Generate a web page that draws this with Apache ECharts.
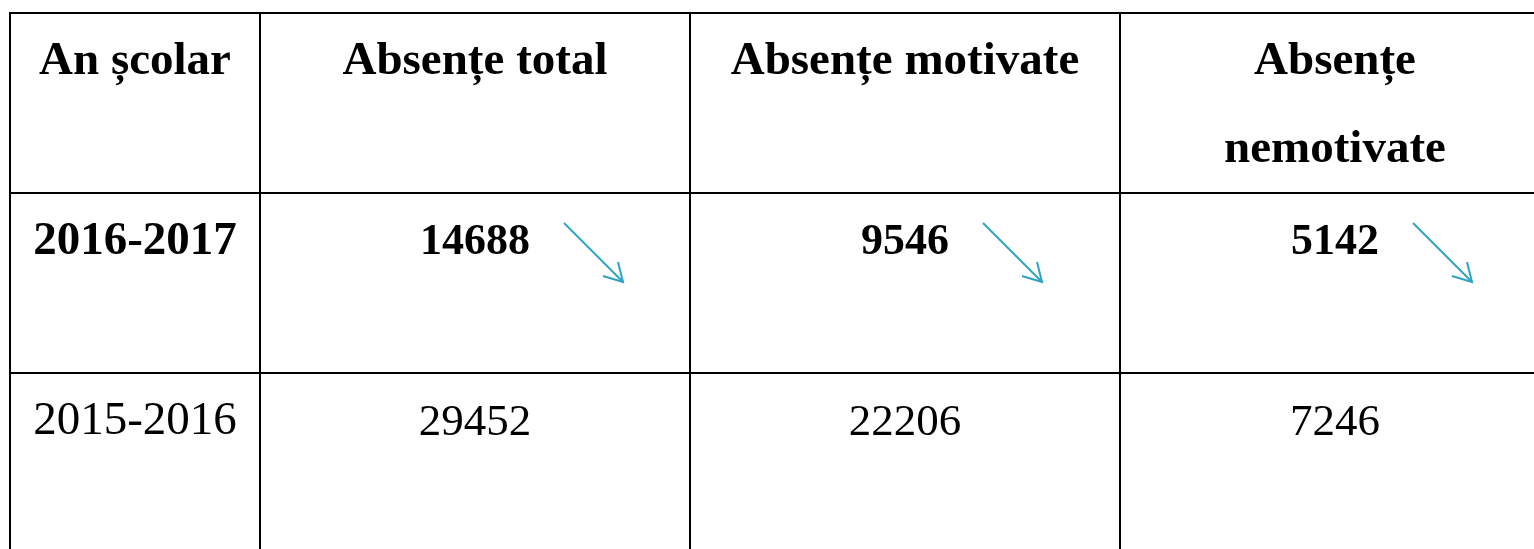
<!DOCTYPE html>
<html>
<head>
<meta charset="utf-8">
<script src="https://cdn.jsdelivr.net/npm/echarts@6/dist/echarts.min.js"></script>
<style>
  html, body { margin: 0; padding: 0; background: #fff; overflow: hidden; }
  /* tabelul continua dincolo de marginea ferestrei, ca in original */
  #chart { width: 1560px; height: 560px; }
</style>
</head>
<body>
<div id="chart"></div>
<script>
// === date tabel ===
const columns = ['An școlar', 'Absențe total', 'Absențe motivate', 'Absențe\nnemotivate']
const years = ['2016-2017', '2015-2016']
const absenteTotal = [14688, 29452]
const absenteMotivate = [9546, 22206]
const absenteNemotivate = [5142, 7246]

const valueCols = [absenteTotal, absenteMotivate, absenteNemotivate]
const rows = ['antet', ...years]

// stiluri
const FONT = "'Liberation Serif', 'Times New Roman', serif"
const ARROW_COLOR = '#2fa3c4'
const BORDER = '#000'

const myChart = echarts.init(document.getElementById('chart'))

// dreptunghiul celulei, din axele categoriale
const cellBox = (api) => {
  const c = api.coord([api.value(0), api.value(1)])
  const s = api.size([1, 1])
  return { x: c[0] - s[0] / 2, y: c[1] - s[1] / 2, w: s[0], h: s[1], cx: c[0] }
}

const cellRect = (b) => ({
  type: 'rect',
  shape: { x: b.x, y: b.y, width: b.w, height: b.h },
  style: { fill: '#fff', stroke: BORDER, lineWidth: 2 }
})

const cellText = (text, x, y, size, weight) => ({
  type: 'text',
  style: {
    text, x, y,
    fontFamily: FONT, fontSize: size, fontWeight: weight,
    fill: '#000', align: 'center', verticalAlign: 'middle'
  }
})

// prima coloana: An școlar + anii
const renderYearCell = (params, api) => {
  const b = cellBox(api)
  const r = api.value(1)
  const children = [cellRect(b)]
  if (r === 0) {
    children.push(cellText(columns[0], b.cx, b.y + 49, 47, 'bold'))
  } else {
    children.push(cellText(years[r - 1], b.cx, b.y + 49, 47, r === 1 ? 'bold' : 'normal'))
  }
  return { type: 'group', children }
}

// coloanele cu absente
const renderValueCell = (params, api) => {
  const b = cellBox(api)
  const col = api.value(0)
  const r = api.value(1)
  const children = [cellRect(b)]
  if (r === 0) {
    columns[col + 1].split('\n').forEach((line, i) => {
      children.push(cellText(line, b.cx, b.y + 49 + i * 88, 47, 'bold'))
    })
  } else {
    const arr = valueCols[col]
    const v = arr[r - 1]
    const isCurrent = r === 1
    const size = isCurrent ? 44 : 45
    children.push(cellText(String(v), b.cx, b.y + 50, size, isCurrent ? 'bold' : 'normal'))
    // sageata de scadere fata de anul precedent
    if (isCurrent && arr[r] !== undefined && v < arr[r]) {
      const sx = b.cx + String(v).length * size * 0.25 + 34
      const sy = b.y + 30
      const tx = sx + 59
      const ty = sy + 59
      children.push({
        type: 'polyline',
        shape: { points: [[sx, sy], [tx, ty]] },
        style: { stroke: ARROW_COLOR, lineWidth: 2, fill: null }
      })
      children.push({
        type: 'polyline',
        shape: { points: [[tx - 20, ty - 6], [tx, ty], [tx - 5, ty - 20]] },
        style: { stroke: ARROW_COLOR, lineWidth: 2, fill: null }
      })
    }
  }
  return { type: 'group', children }
}

const yearData = rows.map((_, r) => [0, r])
const valueData = []
valueCols.forEach((_, c) => rows.forEach((_, r) => valueData.push([c, r])))

const option = {
  backgroundColor: '#fff',
  animation: false,
  grid: [
    { left: 10, top: 13, width: 250, height: 540, outerBoundsMode: 'none' },
    { left: 260, top: 13, width: 1290, height: 540, outerBoundsMode: 'none' }
  ],
  xAxis: [
    { type: 'category', gridIndex: 0, data: [columns[0]], show: false },
    { type: 'category', gridIndex: 1, data: columns.slice(1), show: false }
  ],
  yAxis: [
    { type: 'category', gridIndex: 0, data: rows, inverse: true, show: false },
    { type: 'category', gridIndex: 1, data: rows, inverse: true, show: false }
  ],
  series: [
    {
      type: 'custom',
      xAxisIndex: 0,
      yAxisIndex: 0,
      clip: false,
      renderItem: renderYearCell,
      data: yearData
    },
    {
      type: 'custom',
      xAxisIndex: 1,
      yAxisIndex: 1,
      clip: false,
      renderItem: renderValueCell,
      data: valueData
    }
  ]
}

myChart.setOption(option)
window.addEventListener('resize', () => myChart.resize())
</script>
</body>
</html>
